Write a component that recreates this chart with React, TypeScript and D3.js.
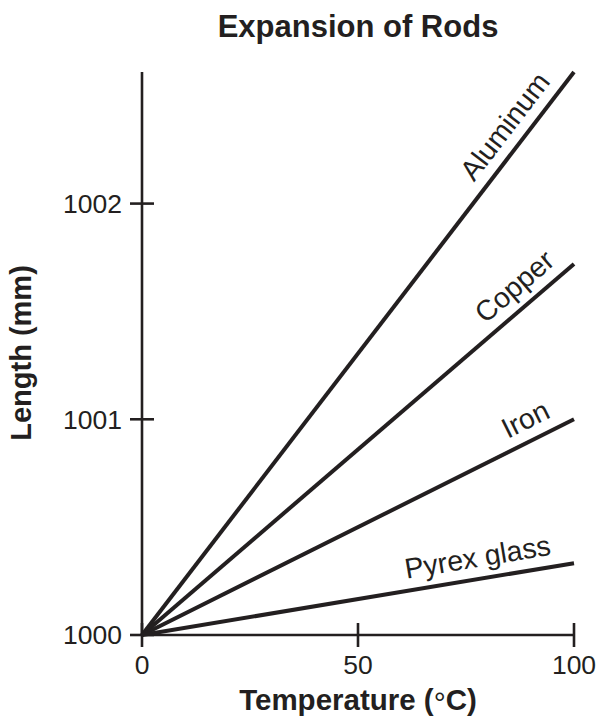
import React from "react";
import * as d3 from "d3";

const title = "Expansion of Rods";
const xLabelMain = "Temperature (";
const xLabelDeg = "°";
const xLabelEnd = "C)";
const yLabel = "Length (mm)";
const xTicks = [0, 50, 100];
const yTicks = [1000, 1001, 1002];
const temps = [0, 100];
const materials = ["Aluminum", "Copper", "Iron", "Pyrex glass"];
const aluminum = [1000, 1002.61];
const copper = [1000, 1001.72];
const iron = [1000, 1001.0];
const pyrex = [1000, 1000.333];
const labelAt = [88, 89.5, 91, 78.5];

const W = 600;
const H = 721;
const INK = "#231f20";
const FONT = "'Liberation Sans', Arial, Helvetica, sans-serif";

export default function App() {
  const x = d3.scaleLinear().domain([0, 100]).range([142, 574]);
  const y = d3.scaleLinear().domain([1000, 1002.61]).range([635, 72]);
  const series = [aluminum, copper, iron, pyrex];
  const line = d3
    .line<number>()
    .x((_, i) => x(temps[i]))
    .y((d) => y(d));

  return (
    <svg
      width={W}
      height={H}
      style={{ position: "absolute", left: 0, top: 0, background: "#fff" }}
      fontFamily={FONT}
    >
      <rect width={W} height={H} fill="#fff" />
      <text x={358} y={37} textAnchor="middle" fontSize={31} fontWeight="bold" fill={INK}>
        {title}
      </text>
      {/* axes */}
      <line x1={x(0)} x2={x(0)} y1={y(1002.61)} y2={y(1000)} stroke={INK} strokeWidth={2.6} />
      <line x1={x(0)} x2={x(100)} y1={y(1000)} y2={y(1000)} stroke={INK} strokeWidth={2.6} />
      {xTicks.map((t) => (
        <g key={"xt" + t}>
          <line x1={x(t)} x2={x(t)} y1={y(1000) - 12} y2={y(1000) + 12} stroke={INK} strokeWidth={2.6} />
          <text x={x(t)} y={674} textAnchor="middle" fontSize={26.5} fill={INK}>
            {t}
          </text>
        </g>
      ))}
      {yTicks.map((t) => (
        <g key={"yt" + t}>
          <line x1={x(0) - 12} x2={x(0) + 12} y1={y(t)} y2={y(t)} stroke={INK} strokeWidth={2.6} />
          <text x={122} y={y(t)} dy="0.35em" textAnchor="end" fontSize={26.5} fill={INK}>
            {t}
          </text>
        </g>
      ))}
      {/* data lines */}
      {series.map((s, i) => (
        <path key={"l" + i} d={line(s) || ""} fill="none" stroke={INK} strokeWidth={4} />
      ))}
      {/* line labels */}
      {series.map((s, i) => {
        const x0 = x(temps[0]);
        const y0 = y(s[0]);
        const x1 = x(temps[1]);
        const y1 = y(s[1]);
        const ang = (Math.atan2(y1 - y0, x1 - x0) * 180) / Math.PI;
        const lx = x(labelAt[i]);
        const ly = y0 + ((y1 - y0) * (lx - x0)) / (x1 - x0);
        return (
          <text
            key={"lab" + i}
            transform={`translate(${lx},${ly}) rotate(${ang})`}
            dy={-12}
            textAnchor="middle"
            fontSize={28.5}
            fill={INK}
          >
            {materials[i]}
          </text>
        );
      })}
      <text x={358} y={710} textAnchor="middle" fontSize={29.5} fontWeight="bold" fill={INK}>
        {xLabelMain}
        <tspan fontWeight="normal" fontSize={30} dy={3}>
          {xLabelDeg}
        </tspan>
        <tspan dy={-3}>{xLabelEnd}</tspan>
      </text>
      <text
        transform={`translate(31,353) rotate(-90)`}
        textAnchor="middle"
        fontSize={29}
        fontWeight="bold"
        fill={INK}
      >
        {yLabel}
      </text>
    </svg>
  );
}
